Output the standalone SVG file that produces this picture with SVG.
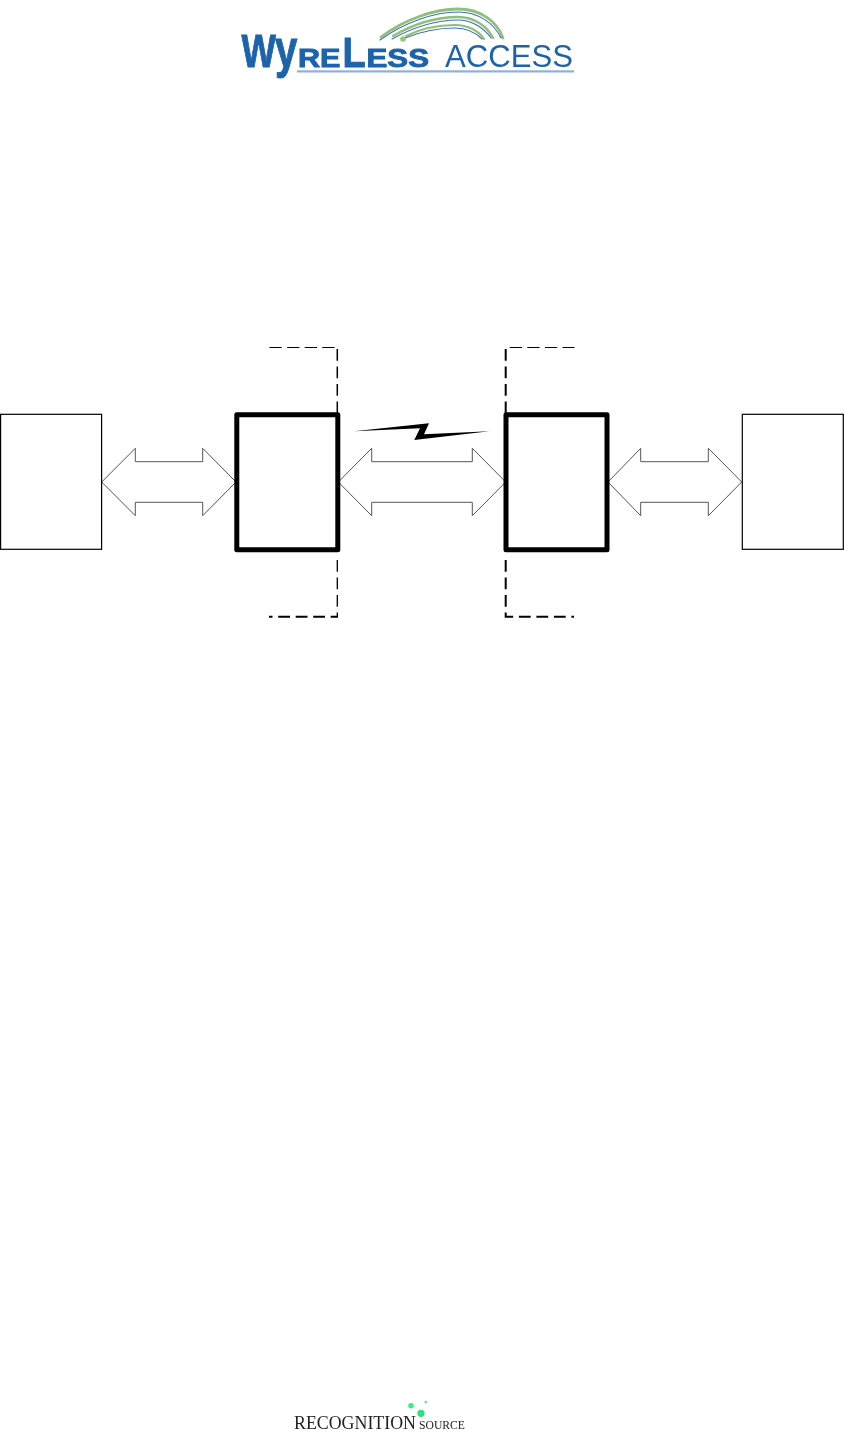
<svg xmlns="http://www.w3.org/2000/svg" width="844" height="1433" viewBox="0 0 844 1433">
<style>
.box{fill:#fff;stroke:#000;stroke-width:1.2}
.core{fill:#fff;stroke:#000;stroke-width:5;stroke-linejoin:round}
.arrow{fill:#fff;stroke:#555;stroke-width:1}
.dash{fill:none;stroke:#000;stroke-dasharray:11.800 5.700}
.logo{font-family:"Liberation Sans",Arial,sans-serif;fill:#1c64ac}
.bold{font-weight:700;stroke:#1c64ac;stroke-width:0.9}
.rs{font-family:"Liberation Serif","Times New Roman",serif;fill:#222}
.blur{filter:url(#soft)}
</style>
<defs><filter id="soft" x="-5%" y="-5%" width="110%" height="110%"><feGaussianBlur stdDeviation="0.45"/></filter></defs>
<rect width="844" height="1433" fill="#fff"/>
<g id="logo-top" class="blur">
<g fill="none" stroke-linecap="round">
<path d="M381 37C405 19 435 9 458 9C480 9 497 21 503 38" stroke="#8fc07a" stroke-width="2.800"/>
<path d="M380 40C405 22 435 12 458 12C478 12 494 23 501 38" stroke="#3a70b8" stroke-width="1.100"/>
<path d="M393 36C412 25 435 17 458 17C474 17 487 26 493 38" stroke="#8fc07a" stroke-width="2.400"/>
<path d="M392 39C412 28 435 20 458 20C472 20 484 28 491 38" stroke="#3a70b8" stroke-width="1.100"/>
<path d="M406 36C420 29 438 25 455 25C468 25 479 31 484 39" stroke="#8fc07a" stroke-width="2.200"/>
<path d="M405 38C420 32 438 28 455 28C466 28 476 33 482 39" stroke="#3a70b8" stroke-width="1.100"/>
</g>
<circle cx="403" cy="39" r="2.800" fill="#93c76e"/>
<text class="logo bold" transform="translate(241.500 66.500) scale(.79 1)" font-size="46">W</text>
<text class="logo bold" transform="translate(275 67) scale(.76 1)" font-size="53">y</text>
<text class="logo bold" x="298" y="66.500" font-size="26" textLength="42.500" lengthAdjust="spacingAndGlyphs">RE</text>
<text class="logo bold" transform="translate(342.500 66.500) scale(.88 1)" font-size="43">L</text>
<text class="logo bold" x="366.500" y="66.500" font-size="26" textLength="62.500" lengthAdjust="spacingAndGlyphs">ESS</text>
<text class="logo" x="445" y="66.500" font-size="31" textLength="128" lengthAdjust="spacingAndGlyphs">ACCESS</text>
<rect x="297" y="70.300" width="277" height="2.200" fill="#8fb0dc"/>
</g>
<g id="brackets">
<path class="dash" stroke-width="1.200" style="stroke-dasharray:12.300 5.300" d="M269.500 347.500H337"/>
<path class="dash" stroke-width="1.500" d="M337.300 349V414"/>
<path class="dash" stroke-width="1.300" d="M337.300 560V617"/>
<path class="dash" stroke-width="2" style="stroke-dashoffset:4.500" d="M338 616.800H269"/>
<path class="dash" stroke-width="1.200" style="stroke-dasharray:12.300 5.300" d="M509.700 347.500H574.500"/>
<path class="dash" stroke-width="2" d="M505.700 349V414"/>
<path class="dash" stroke-width="2" d="M505.700 560V616.800H574"/>
</g>
<g id="connectors">
<path class="arrow" d="M101.700 482L135.300 448.300V461.700H202.700V448.300L236 482L202.700 515.700V502.300H135.300V515.700Z"/>
<path class="arrow" d="M338.300 482L371.700 448.300V461.700H472.300V448.300L505.700 482L472.300 515.700V502.300H371.700V515.700Z"/>
<path class="arrow" d="M608 482L640.700 448.300V461.700H708.300V448.300L741.700 482L708.300 515.700V502.300H640.700V515.700Z"/>
<path id="wireless-link" d="M354 431.300L429 423.300L424 434.300L489.300 431.300L414.300 440L420 428.300Z" fill="#000"/>
</g>
<g id="node-left"><rect class="box" x="0.600" y="414.300" width="101" height="135"/></g>
<g id="node-core-left"><rect class="core" x="236.800" y="414.800" width="101" height="135"/></g>
<g id="node-core-right"><rect class="core" x="506" y="414.800" width="101" height="135"/></g>
<g id="node-right"><rect class="box" x="742.300" y="414.300" width="101" height="135"/></g>
<g id="logo-bottom" class="blur">
<circle cx="411" cy="1405.700" r="2.800" fill="#33f08a"/>
<circle cx="425.700" cy="1402" r="1.200" fill="#33f08a"/>
<circle cx="421" cy="1413.300" r="3.600" fill="#2fe080"/>
<text class="rs" x="294" y="1429" font-size="19" textLength="122" lengthAdjust="spacingAndGlyphs">RECOGNITION</text>
<text class="rs" x="419" y="1429" font-size="12.500" textLength="46" lengthAdjust="spacingAndGlyphs">SOURCE</text>
</g>
</svg>
